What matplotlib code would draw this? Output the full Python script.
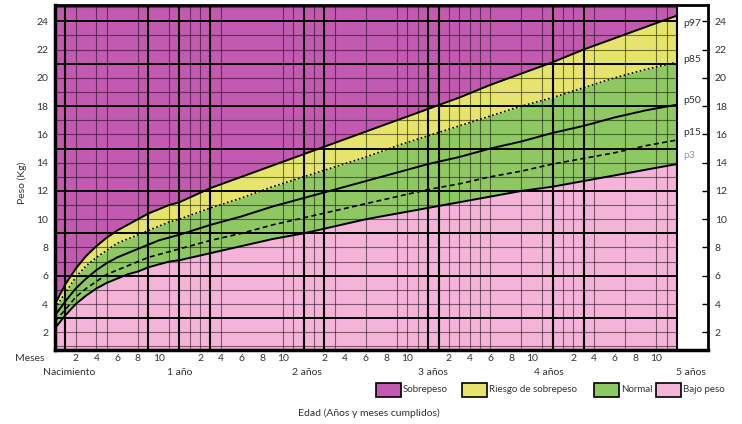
# Curva de peso para la edad (niñas 0 a 5 años), bandas por percentil

import matplotlib
matplotlib.use("Agg")
import matplotlib.pyplot as plt
from matplotlib.patches import Rectangle
from matplotlib.transforms import blended_transform_factory

meses = [0, 1, 2, 3, 4, 5, 6, 7, 8, 9, 10, 11, 12, 15, 18, 21, 24, 27, 30,
         33, 36, 39, 42, 45, 48, 51, 54, 57, 60]
p3 = [2.3, 3.2, 4.0, 4.6, 5.1, 5.5, 5.8, 6.1, 6.3, 6.6, 6.8, 7.0, 7.1, 7.6,
      8.1, 8.6, 9.0, 9.5, 10.0, 10.4, 10.8, 11.2, 11.6, 12.0, 12.3, 12.7,
      13.1, 13.5, 13.9]
p15 = [2.8, 3.6, 4.5, 5.1, 5.6, 6.1, 6.4, 6.7, 7.0, 7.3, 7.5, 7.7, 7.9, 8.5,
       9.0, 9.6, 10.1, 10.6, 11.1, 11.6, 12.1, 12.5, 13.0, 13.4, 13.9, 14.3,
       14.7, 15.2, 15.6]
p50 = [3.2, 4.2, 5.1, 5.8, 6.4, 6.9, 7.3, 7.6, 7.9, 8.2, 8.5, 8.7, 8.9, 9.6,
       10.2, 10.9, 11.5, 12.1, 12.7, 13.3, 13.9, 14.4, 15.0, 15.5, 16.1, 16.6,
       17.2, 17.7, 18.1]
p85 = [3.7, 4.8, 5.9, 6.7, 7.3, 7.8, 8.3, 8.6, 8.9, 9.2, 9.5, 9.8, 10.0, 10.8,
       11.5, 12.3, 13.0, 13.7, 14.4, 15.2, 15.9, 16.6, 17.3, 18.0, 18.6, 19.3,
       20.0, 20.6, 21.1]
p97 = [4.0, 5.4, 6.5, 7.4, 8.1, 8.7, 9.2, 9.6, 10.0, 10.4, 10.7, 11.0, 11.2,
       12.2, 13.0, 13.8, 14.6, 15.4, 16.2, 17.0, 17.8, 18.6, 19.5, 20.3, 21.1,
       22.0, 22.8, 23.6, 24.4]

etiquetas_p = ["p97", "p85", "p50", "p15", "p3"]
pos_etiquetas_p = [23.85, 21.3, 18.4, 16.1, 14.5]

lineas_gruesas = [1, 9, 12, 15, 24, 26, 36, 37, 48, 51, 60]
lineas_finas = [2, 4, 5, 8, 11, 13, 14, 16, 22, 23, 25, 27, 30, 33, 34, 35,
                38, 39, 40, 41, 42, 45, 47, 49, 50, 52, 55, 58, 59]
kg_ticks = [2, 4, 6, 8, 10, 12, 14, 16, 18, 20, 22, 24]

anios = ["Nacimiento", "1 año", "2 años", "3 años", "4 años", "5 años"]
pos_anios = [1.35, 12, 24.3, 36.5, 47.6, 61.4]

leyenda = ["Sobrepeso", "Riesgo de sobrepeso", "Normal", "Bajo peso"]
colores = ["#C25BB0", "#E6E46C", "#8EC862", "#F3B4D7"]

plt.rcParams["font.family"] = ["Lato", "DejaVu Sans"]
gris = "#333333"

Y0, Y1 = 0.75, 25.15
X1 = 63.0

fig = plt.figure(figsize=(7.42, 4.24), dpi=100)
ax = fig.add_axes([55 / 742, 74 / 424, 653 / 742, 345 / 424])
ax.set_xlim(0, X1)
ax.set_ylim(Y0, Y1)

ax.fill_between(meses, p97, Y1, color=colores[0], lw=0, zorder=1)
ax.fill_between(meses, p85, p97, color=colores[1], lw=0, zorder=1)
ax.fill_between(meses, p3, p85, color=colores[2], lw=0, zorder=1)
ax.fill_between(meses, Y0, p3, color=colores[3], lw=0, zorder=1)

# cuadricula
for k in range(1, 26):
    if k % 3 == 0:
        ax.hlines(k, 0, 60, color="black", lw=1.4, zorder=2)
    else:
        ax.hlines(k, 0, 60, color="black", lw=0.8, alpha=0.5, zorder=2)
ax.vlines(lineas_finas, Y0, Y1, color="black", lw=0.8, alpha=0.5, zorder=2)
ax.vlines(lineas_gruesas, Y0, Y1, color="black", lw=1.5, zorder=2)

ax.plot(meses, p97, color="black", lw=1.4, zorder=3)
ax.plot(meses, p85, color="black", lw=1.2, ls=(0, (1, 1.5)), zorder=3)
ax.plot(meses, p50, color="black", lw=1.4, zorder=3)
ax.plot(meses, p15, color="black", lw=1.2, ls=(0, (3, 2)), zorder=3)
ax.plot(meses, p3, color="black", lw=1.4, zorder=3)

for et, yy in zip(etiquetas_p, pos_etiquetas_p):
    c = "#999999" if et == "p3" else gris
    ax.text(60.6, yy, et, fontsize=7.5, color=c, ha="left", va="center")

for lado in ["left", "bottom"]:
    ax.spines[lado].set_linewidth(2.5)
for lado in ["top", "right"]:
    ax.spines[lado].set_linewidth(2)

ax.set_yticks(kg_ticks)
ax.set_yticklabels([str(k) for k in kg_ticks])
ax.tick_params(axis="y", left=False, right=True, labelleft=True, labelright=True,
               direction="in", length=4, width=1, pad=5, labelsize=7.5,
               labelcolor=gris)

xt = []
xl = []
for a in range(5):
    for m in [2, 4, 6, 8, 10]:
        xt.append(a * 12 + m)
        xl.append(str(m))
ax.set_xticks(xt)
ax.set_xticklabels(xl)
ax.tick_params(axis="x", length=0, pad=3, labelsize=7.5, labelcolor=gris)

tr = blended_transform_factory(ax.transData, ax.transAxes)
ax.text(-1.0, -0.024, "Meses", transform=tr, fontsize=7.5, color=gris,
        ha="right", va="center")
for et, xx in zip(anios, pos_anios):
    ax.text(xx, -0.066, et, transform=tr, fontsize=7.5, color=gris,
            ha="center", va="center")

fig.text(22 / 742, 1 - 183 / 424, "Peso (Kg)", rotation=90, fontsize=7.5,
         color=gris, ha="center", va="center")
fig.text(369 / 742, 1 - 413 / 424, "Edad (Años y meses cumplidos)",
         fontsize=7.5, color=gris, ha="center", va="center")

# leyenda hecha a mano
x_cajas = [376, 462, 594, 656]
for x, et, col in zip(x_cajas, leyenda, colores):
    r = Rectangle((x / 742, 1 - 397 / 424), 25 / 742, 14 / 424, facecolor=col,
                  edgecolor="black", lw=1.2, transform=fig.transFigure)
    fig.add_artist(r)
    fig.text((x + 27) / 742, 1 - 390 / 424, et, fontsize=7, color=gris,
             ha="left", va="center")

fig.savefig("out.png", dpi=100)
